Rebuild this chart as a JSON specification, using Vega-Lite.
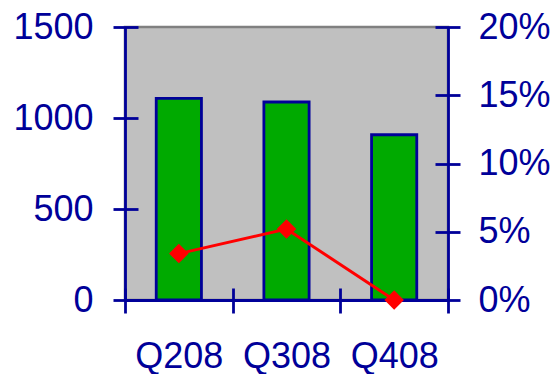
{
  "$schema": "https://vega.github.io/schema/vega-lite/v6.json",
  "autosize": {"type": "none"},
  "padding": {"left": 125, "top": 27, "right": 111, "bottom": 74},
  "width": 323,
  "height": 273,
  "background": "white",
  "view": {"fill": "#C0C0C0", "stroke": "#808080", "strokeWidth": 2.5},
  "config": {
    "font": "Liberation Sans",
    "axis": {
      "grid": false,
      "title": null,
      "domainColor": "#000099",
      "domainWidth": 2.8,
      "tickColor": "#000099",
      "tickWidth": 2.8,
      "tickSize": 12,
      "labelColor": "#000099",
      "labelFont": "Liberation Sans",
      "labelFontSize": 36
    }
  },
  "data": {
    "values": [
      {"quarter": "Q208", "amount": 1108, "rate": 0.034},
      {"quarter": "Q308", "amount": 1088, "rate": 0.052},
      {"quarter": "Q408", "amount": 908, "rate": 0.0}
    ]
  },
  "encoding": {
    "x": {
      "field": "quarter",
      "type": "nominal",
      "sort": null,
      "scale": {"paddingInner": 0, "paddingOuter": 0},
      "axis": {
        "labelAngle": 0,
        "labelPadding": 26,
        "tickBand": "extent",
        "tickSize": 13,
        "encoding": {"ticks": {"y": {"value": -12}}}
      }
    }
  },
  "layer": [
    {
      "mark": {
        "type": "bar",
        "width": {"band": 0.42},
        "fill": "#00AA00",
        "stroke": "#000099",
        "strokeWidth": 2.8
      },
      "encoding": {
        "y": {
          "field": "amount",
          "type": "quantitative",
          "scale": {"domain": [0, 1500], "nice": false},
          "axis": {
            "orient": "left",
            "values": [0, 500, 1000, 1500],
            "format": "d",
            "labelPadding": 20,
            "encoding": {"ticks": {"x": {"value": 13}}}
          }
        }
      }
    },
    {
      "mark": {
        "type": "line",
        "color": "#FF0000",
        "strokeWidth": 3,
        "point": {"shape": "diamond", "size": 380, "filled": true, "color": "#FF0000", "opacity": 1}
      },
      "encoding": {
        "y": {
          "field": "rate",
          "type": "quantitative",
          "scale": {"domain": [0, 0.2], "nice": false},
          "axis": {
            "orient": "right",
            "values": [0, 0.05, 0.1, 0.15, 0.2],
            "format": ".0%",
            "labelPadding": 18,
            "encoding": {"ticks": {"x": {"value": -13}}}
          }
        }
      }
    }
  ],
  "resolve": {"scale": {"y": "independent"}}
}
